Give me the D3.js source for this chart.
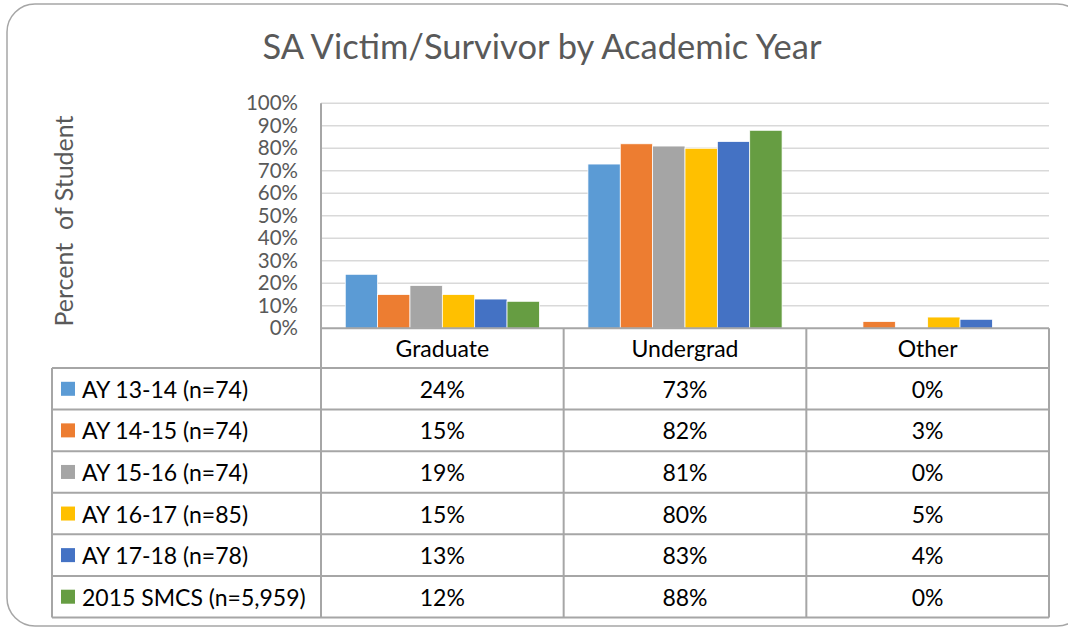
<!DOCTYPE html>
<html>
<head>
<meta charset="utf-8">
<script src="https://cdn.jsdelivr.net/npm/d3@7"></script>
<style>
  html, body { margin: 0; padding: 0; background: #ffffff; }
  svg { display: block; }
  text { font-family: Lato, "Open Sans", sans-serif; }
</style>
</head>
<body>
<svg id="chart" width="1068" height="628"></svg>
<script>
// ---- data ----
const categories = ["Graduate", "Undergrad", "Other"];
const seriesNames = ["AY 13-14 (n=74)", "AY 14-15 (n=74)", "AY 15-16 (n=74)", "AY 16-17 (n=85)", "AY 17-18 (n=78)", "2015 SMCS (n=5,959)"];
const ay1314 = [24, 73, 0];
const ay1415 = [15, 82, 3];
const ay1516 = [19, 81, 0];
const ay1617 = [15, 80, 5];
const ay1718 = [13, 83, 4];
const smcs2015 = [12, 88, 0];
const yTicks = [0, 10, 20, 30, 40, 50, 60, 70, 80, 90, 100];
const title = "SA Victim/Survivor by Academic Year";
const yLabel = "Percent  of Student";

const seriesValues = [ay1314, ay1415, ay1516, ay1617, ay1718, smcs2015];
const colors = ["#5B9BD5", "#ED7D31", "#A5A5A5", "#FFC000", "#4472C4", "#669D42"];

// ---- layout ----
const svg = d3.select("#chart");
const plotL = 321, plotR = 1049, plotT = 103.3, plotB = 328.3;
const tableL = 52, headerB = 368, tableB = 617.5;
const rowH = (tableB - headerB) / seriesNames.length;
const lineColor = "#A6A6A6";

// frame
svg.append("rect")
  .attr("x", 7).attr("y", 4).attr("width", 1078).attr("height", 622)
  .attr("rx", 28).attr("ry", 28)
  .attr("fill", "#fff").attr("stroke", "#A6A6A6").attr("stroke-width", 1.5);

// title
svg.append("text")
  .attr("x", 542).attr("y", 59)
  .attr("text-anchor", "middle")
  .attr("font-size", 34.5)
  .attr("fill", "#595959")
  .text(title);

// scales
const x0 = d3.scaleBand().domain(categories).range([plotL, plotR]).padding(0);
const bw = x0.bandwidth();
const x1 = d3.scaleBand().domain(d3.range(seriesNames.length)).range([bw * 0.1, bw * 0.9]).padding(0);
const y = d3.scaleLinear().domain([0, 100]).range([plotB, plotT]);

// gridlines
svg.append("g").selectAll("line")
  .data(yTicks.filter(d => d > 0))
  .join("line")
  .attr("x1", plotL).attr("x2", plotR)
  .attr("y1", d => y(d)).attr("y2", d => y(d))
  .attr("stroke", "#D9D9D9").attr("stroke-width", 1.5);

// y axis labels
const yAxis = d3.axisLeft(y).tickValues(yTicks).tickFormat(d => d + "%").tickSize(0).tickPadding(23);
const ga = svg.append("g").attr("transform", `translate(${plotL},0)`).call(yAxis);
ga.select(".domain").remove();
ga.selectAll("text").attr("font-size", 20.5).attr("fill", "#595959")
  .style("font-family", "Lato, 'Open Sans', sans-serif");

// y label
svg.append("text")
  .attr("transform", "translate(63,221) rotate(-90)")
  .attr("text-anchor", "middle")
  .attr("dominant-baseline", "central")
  .attr("font-size", 25)
  .attr("fill", "#595959")
  .style("white-space", "pre")
  .text(yLabel);

// bars
const barData = [];
seriesValues.forEach((vals, si) => {
  vals.forEach((v, ci) => barData.push({ si, cat: categories[ci], v }));
});
svg.append("g").selectAll("rect")
  .data(barData.filter(d => d.v > 0))
  .join("rect")
  .attr("x", d => x0(d.cat) + x1(d.si))
  .attr("y", d => y(d.v))
  .attr("width", x1.bandwidth())
  .attr("height", d => y(0) - y(d.v))
  .attr("fill", d => colors[d.si])
  .attr("stroke", "#fff").attr("stroke-width", 0.75);

// ---- data table ----
const tg = svg.append("g");
const line = (xa, ya, xb, yb) => tg.append("line")
  .attr("x1", xa).attr("y1", ya).attr("x2", xb).attr("y2", yb)
  .attr("stroke", lineColor).attr("stroke-width", 2);

// horizontal axis / header top
line(plotL, plotB, plotR, plotB);
// vertical axis line through plot
line(plotL, plotT, plotL, tableB);
// category separators
categories.forEach((c, i) => {
  if (i > 0) line(x0(c), plotB, x0(c), tableB);
});
line(plotR, plotB, plotR, tableB);
// row lines
d3.range(seriesNames.length + 1).forEach(i => {
  line(tableL, headerB + i * rowH, plotR, headerB + i * rowH);
});
line(tableL, headerB, tableL, tableB);

// header text
tg.selectAll("text.hdr")
  .data(categories)
  .join("text")
  .attr("class", "hdr")
  .attr("x", d => x0(d) + bw / 2)
  .attr("y", (plotB + headerB) / 2)
  .attr("text-anchor", "middle")
  .attr("dominant-baseline", "central")
  .attr("font-size", 23)
  .attr("fill", "#000")
  .text(d => d);

// rows
seriesNames.forEach((name, si) => {
  const cy = headerB + rowH * (si + 0.5);
  tg.append("rect")
    .attr("x", 61).attr("y", cy - 7).attr("width", 14).attr("height", 14)
    .attr("fill", colors[si]);
  tg.append("text")
    .attr("x", 82).attr("y", cy)
    .attr("dominant-baseline", "central")
    .attr("font-size", 23)
    .attr("fill", "#000")
    .text(name);
  categories.forEach((c, ci) => {
    tg.append("text")
      .attr("x", x0(c) + bw / 2).attr("y", cy)
      .attr("text-anchor", "middle")
      .attr("dominant-baseline", "central")
      .attr("font-size", 23)
      .attr("fill", "#000")
      .text(seriesValues[si][ci] + "%");
  });
});
</script>
</body>
</html>
